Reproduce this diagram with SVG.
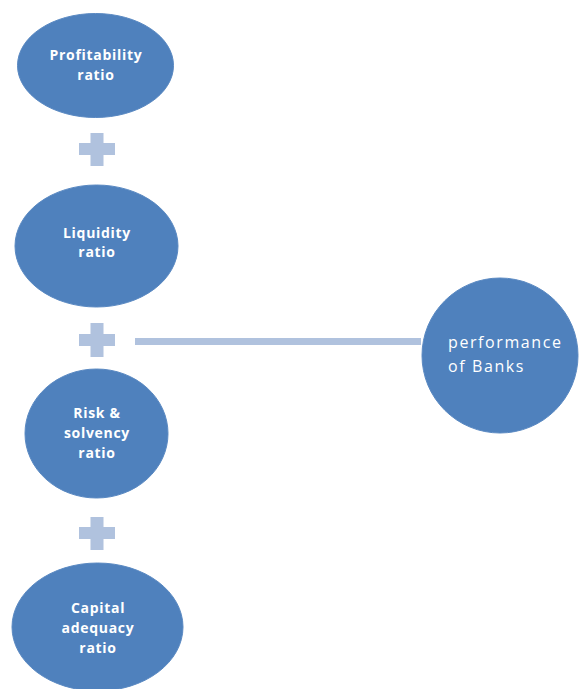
<svg xmlns="http://www.w3.org/2000/svg" width="580" height="689" viewBox="0 0 580 689">
<style>
.n{fill:#4F81BD;stroke:#5A89C2;stroke-width:1}
.t{font-family:"Open Sans","DejaVu Sans",sans-serif;font-size:14px;font-weight:bold;fill:#FFFFFF;text-anchor:middle;letter-spacing:0.7px}
.t2{font-family:"Open Sans","DejaVu Sans",sans-serif;font-size:16px;fill:#FFFFFF;letter-spacing:1.6px}
.p{fill:#B0C2DE}
</style>
<rect width="580" height="689" fill="#FFFFFF"/>
<g id="connectors">
<g id="plus1" class="p"><rect x="79" y="143" width="36" height="12"/><rect x="90.5" y="133" width="13" height="33"/></g>
<g id="plus2" class="p"><rect x="79" y="334" width="36" height="12"/><rect x="90.5" y="323" width="13" height="34"/></g>
<g id="plus3" class="p"><rect x="79" y="527" width="36" height="12"/><rect x="90.5" y="517" width="13" height="33"/></g>
<rect x="135" y="338" width="286" height="7" fill="#B0C2DE"/>
</g>
<g id="profitability"><ellipse class="n" cx="95.5" cy="65.5" rx="78" ry="52"/><text class="t" x="96" y="60">Profitability</text><text class="t" x="96" y="80">ratio</text></g>
<g id="liquidity"><ellipse class="n" cx="96.5" cy="246" rx="81.5" ry="61"/><text class="t" x="97" y="238">Liquidity</text><text class="t" x="97" y="257">ratio</text></g>
<g id="risk"><ellipse class="n" cx="96.5" cy="433.5" rx="71.5" ry="64.5"/><text class="t" x="97" y="418">Risk &amp;</text><text class="t" x="97" y="438">solvency</text><text class="t" x="97" y="458">ratio</text></g>
<g id="capital"><ellipse class="n" cx="97.5" cy="627" rx="85.5" ry="64"/><text class="t" x="98" y="613">Capital</text><text class="t" x="98" y="633">adequacy</text><text class="t" x="98" y="653">ratio</text></g>
<g id="performance"><ellipse class="n" cx="500" cy="355.5" rx="78" ry="77.5"/><text class="t2" x="448" y="348">performance</text><text class="t2" x="448" y="372">of Banks</text></g>
</svg>
